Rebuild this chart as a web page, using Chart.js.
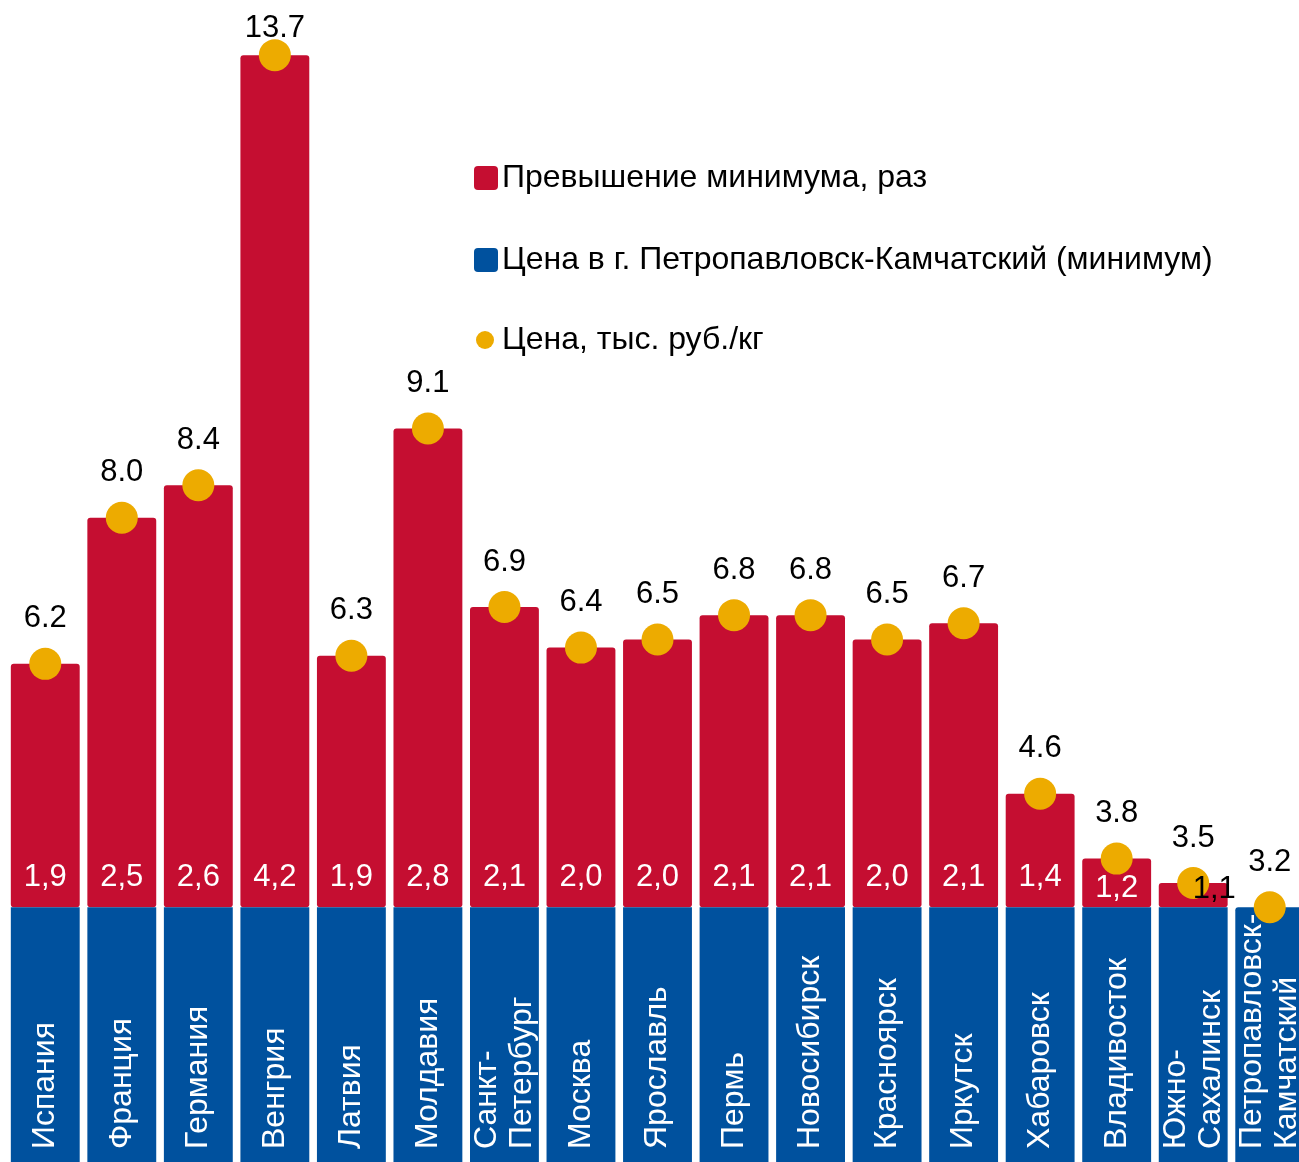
<!DOCTYPE html>
<html>
<head>
<meta charset="utf-8">
<script src="https://cdn.jsdelivr.net/npm/chart.js@4"></script>
<style>
    html, body { margin: 0; padding: 0; background: #fff; overflow: hidden; }
    #wrap { width: 1308px; height: 1167px; }
</style>
</head>
<body>
<div id="wrap"><canvas id="priceChart" width="1308" height="1167"></canvas></div>
<script>
const categories = ['Испания', 'Франция', 'Германия', 'Венгрия', 'Латвия', 'Молдавия', 'Санкт-\nПетербург',
    'Москва', 'Ярославль', 'Пермь', 'Новосибирск', 'Красноярск', 'Иркутск', 'Хабаровск', 'Владивосток',
    'Южно-\nСахалинск', 'Петропавловск-\nКамчатский'];

// price, thousand rub/kg
const prices = [6.2, 8.0, 8.4, 13.7, 6.3, 9.1, 6.9, 6.4, 6.5, 6.8, 6.8, 6.5, 6.7, 4.6, 3.8, 3.5, 3.2];
// price in Petropavlovsk-Kamchatsky (minimum), base of each bar
const minPrice = [3.2, 3.2, 3.2, 3.2, 3.2, 3.2, 3.2, 3.2, 3.2, 3.2, 3.2, 3.2, 3.2, 3.2, 3.2, 3.2, 3.2];
// part above the minimum
const excess = [3.0, 4.8, 5.2, 10.5, 3.1, 5.9, 3.7, 3.2, 3.3, 3.6, 3.6, 3.3, 3.5, 1.4, 0.6, 0.3, 0];
// times over minimum (as printed)
const ratioLabels = ['1,9', '2,5', '2,6', '4,2', '1,9', '2,8', '2,1', '2,0', '2,0', '2,1', '2,1', '2,0', '2,1',
    '1,4', '1,2', '1,1', ''];

const RED = '#C50E31';
const BLUE = '#00519E';
const ORANGE = '#EDAB00';
const FONT = '"Liberation Sans", Arial, sans-serif';

// labels drawn on top of the bars
const labelsPlugin = {
    id: 'barLabels',
    afterDatasetsDraw(chart) {
        const ctx = chart.ctx;
        const x = chart.scales.x;
        const y = chart.scales.y;
        const bottom = chart.chartArea.bottom;
        ctx.save();
        ctx.textBaseline = 'middle';
        ctx.textAlign = 'center';

        // price above dots (kept inside the canvas for the tallest bar)
        ctx.font = `31px ${FONT}`;
        ctx.fillStyle = '#000';
        prices.forEach((p, i) => {
            const ly = Math.max(y.getPixelForValue(p) - 45, 28);
            ctx.fillText(p.toFixed(1), x.getPixelForValue(i), ly);
        });

        // ratios just above the blue part; two small bars need a nudge
        const nudge = { 14: { dx: 0, dy: 11, color: '#fff' }, 15: { dx: 21, dy: 12, color: '#000' } };
        ratioLabels.forEach((r, i) => {
            if (!r) return;
            const n = nudge[i] || { dx: 0, dy: 0, color: '#fff' };
            ctx.fillStyle = n.color;
            ctx.fillText(r, x.getPixelForValue(i) + n.dx, y.getPixelForValue(minPrice[i]) - 30 + n.dy);
        });

        // category names, vertical, inside the blue part
        ctx.font = `32px ${FONT}`;
        ctx.fillStyle = '#fff';
        ctx.textAlign = 'left';
        categories.forEach((c, i) => {
            const lines = c.split('\n');
            ctx.save();
            ctx.translate(x.getPixelForValue(i), bottom - 18);
            ctx.rotate(-Math.PI / 2);
            lines.forEach((ln, k) => {
                ctx.fillText(ln, 0, (k - (lines.length - 1) / 2) * 35);
            });
            ctx.restore();
        });

        // legend
        const items = [
            { label: chart.data.datasets[2].label, color: RED, y: 178 },
            { label: chart.data.datasets[1].label, color: BLUE, y: 260 },
            { label: chart.data.datasets[0].label, color: ORANGE, y: 340, dot: true }
        ];
        ctx.font = `32px ${FONT}`;
        items.forEach(it => {
            ctx.fillStyle = it.color;
            ctx.beginPath();
            if (it.dot) {
                ctx.arc(485, it.y, 9, 0, Math.PI * 2);
            } else {
                ctx.roundRect(474, it.y - 12, 24, 24, 4);
            }
            ctx.fill();
            ctx.fillStyle = '#000';
            ctx.fillText(it.label, 502, it.y);
        });
        ctx.restore();
    }
};

new Chart(document.getElementById('priceChart'), {
    type: 'bar',
    data: {
        labels: categories,
        datasets: [
            {
                type: 'line',
                label: 'Цена, тыс. руб./кг',
                data: prices,
                stack: 'dots',
                showLine: false,
                pointRadius: 16,
                pointHoverRadius: 16,
                pointBackgroundColor: ORANGE,
                pointBorderWidth: 0,
                clip: false,
                order: 0
            },
            {
                label: 'Цена в г. Петропавловск-Камчатский (минимум)',
                data: minPrice,
                stack: 'bars',
                backgroundColor: BLUE,
                borderRadius: 3,
                borderSkipped: false,
                order: 1
            },
            {
                label: 'Превышение минимума, раз',
                data: excess,
                stack: 'bars',
                backgroundColor: RED,
                borderRadius: 3,
                borderSkipped: false,
                order: 2
            }
        ]
    },
    options: {
        responsive: false,
        animation: false,
        layout: { autoPadding: false, padding: { left: 7, right: 0, top: 0, bottom: 0 } },
        datasets: { bar: { barPercentage: 0.9, categoryPercentage: 1 } },
        plugins: {
            legend: { display: false },
            tooltip: { enabled: false }
        },
        scales: {
            x: { display: false, stacked: true },
            y: { display: false, stacked: true, min: 0, max: 14.38 }
        }
    },
    plugins: [labelsPlugin]
});
</script>
</body>
</html>
